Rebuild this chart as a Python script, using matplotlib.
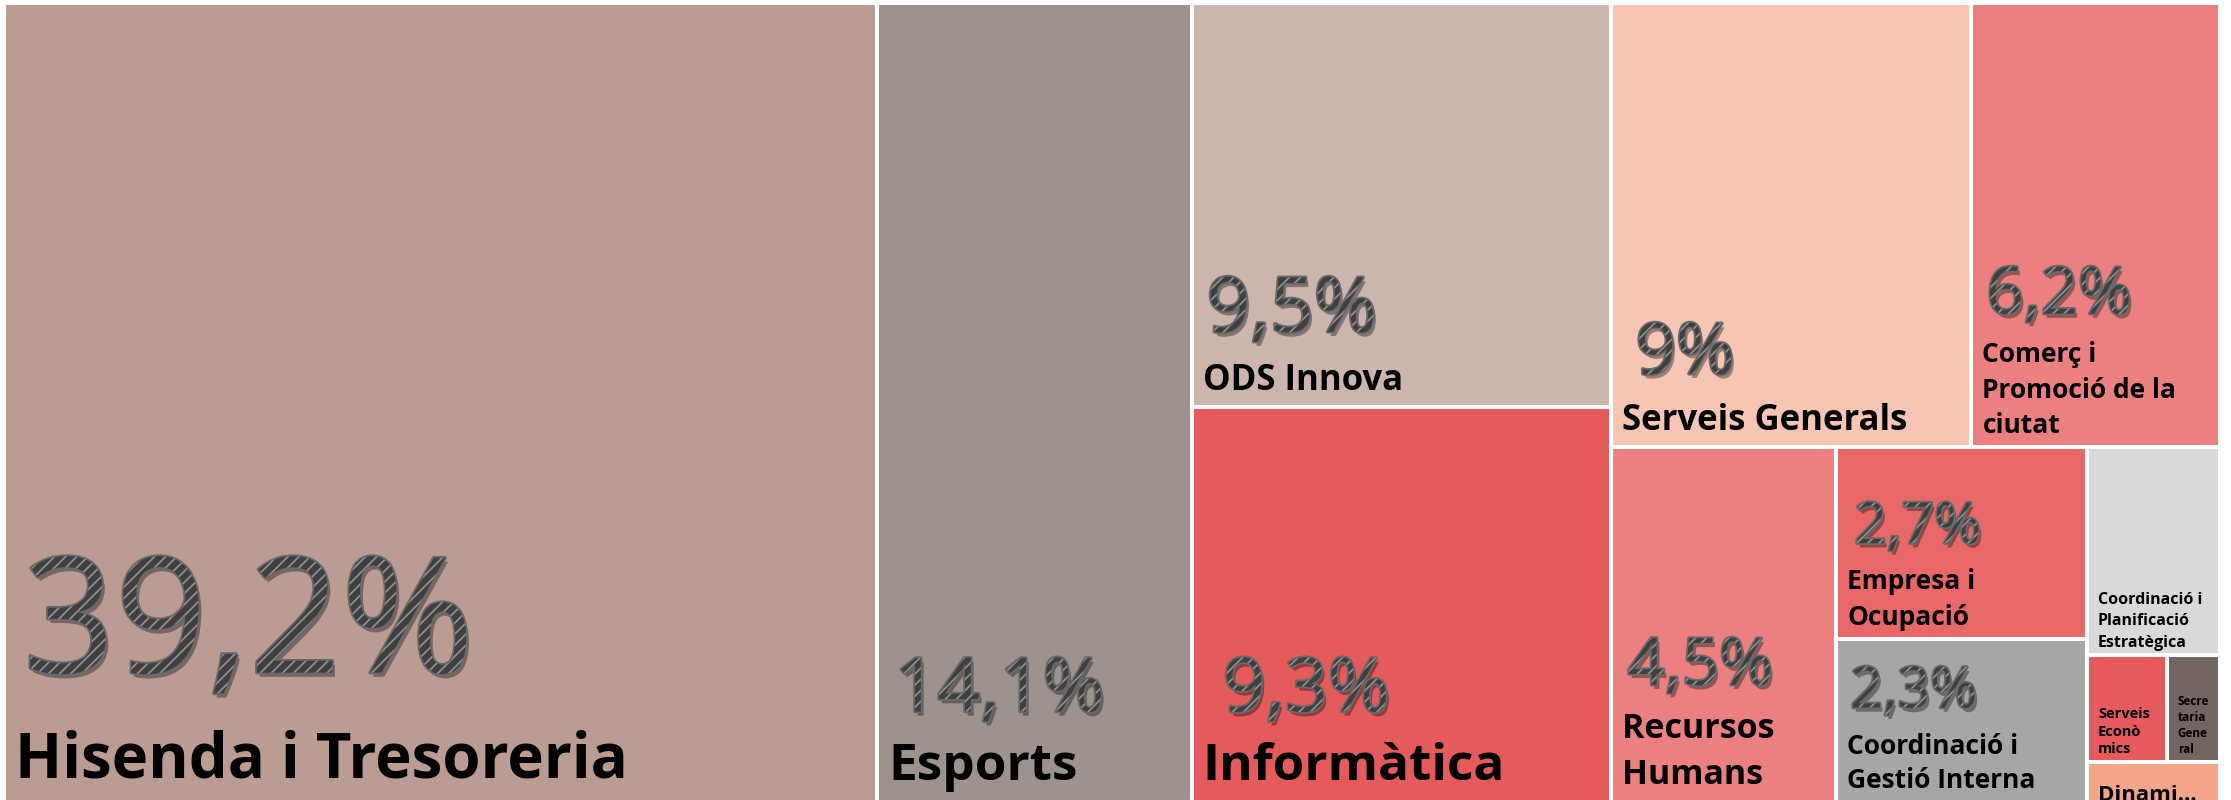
import matplotlib.pyplot as plt
import matplotlib.patheffects as pe
from matplotlib.patches import Rectangle

plt.rcParams['font.family'] = ['Open Sans', 'DejaVu Sans']
plt.rcParams['hatch.linewidth'] = 1.3

# share of the budget per department (%)
departments = ["Hisenda i Tresoreria", "Esports", "ODS Innova", "Informàtica",
               "Serveis Generals", "Comerç i Promoció de la ciutat", "Recursos Humans",
               "Empresa i Ocupació", "Coordinació i Gestió Interna",
               "Coordinació i Planificació Estratègica", "Serveis Econòmics",
               "Secretaria General", "Dinami…"]
shares = [39.2, 14.1, 9.5, 9.3, 9.0, 6.2, 4.5, 2.7, 2.3, 1.55, 0.48, 0.32, 0.3]

# names as they are wrapped inside the tiles
tile_labels = ["Hisenda i Tresoreria", "Esports", "ODS Innova", "Informàtica",
               "Serveis Generals", "Comerç i\nPromoció de la\nciutat", "Recursos\nHumans",
               "Empresa i\nOcupació", "Coordinació i\nGestió Interna",
               "Coordinació i\nPlanificació\nEstratègica", "Serveis\nEconò\nmics",
               "Secre\ntaria\nGene\nral", "Dinami…"]

tile_colors = ['#BA9C92', '#9C928E', '#CCB5AD', '#E55A5A', '#F7C5B4', '#EC8080',
               '#EC8080', '#E86868', '#A6A6A6', '#D9D9D9', '#E55A5A', '#726663', '#F4A58A']

# font sizes (pt) of the percentage and of the name in each tile, None = no percentage
pct_sizes = [116, 54, 55, 54, 51, 47, 47, 41, 41, None, None, None, None]
pct_shift = [8, 6, 4, 20, 14, 4, 6, 7, 3, 0, 0, 0, 0]
name_sizes = [44.5, 37, 25, 37, 25, 19, 24.5, 19, 19, 11.5, 10.5, 8.5, 16]
name_lift = [8, 8, 8, 8, 8, 8, 8, 8, 6, 4, 6, 6, -6]
line_spacing = [1.2, 1.2, 1.2, 1.2, 1.2, 1.4, 1.45, 1.4, 1.35, 1.45, 1.3, 1.3, 1.2]

# how the tiles are nested: rows split left-to-right, cols split top-to-bottom
LAYOUT = ('row', [0, 1, ('col', [2, 3]),
                  ('col', [('row', [4, 5]),
                           ('row', [6, ('col', [7, 8]),
                                    ('col', [9, ('row', [10, 11]), 12])])])])


def node_total(node):
    if isinstance(node, int):
        return shares[node]
    return sum(node_total(c) for c in node[1])


def place(node, x, y, w, h, out):
    if isinstance(node, int):
        out[node] = (x, y, w, h)
        return
    kind, children = node
    s = node_total(node)
    for c in children:
        t = node_total(c)
        if kind == 'row':
            cw = w * t / s
            place(c, x, y, cw, h, out)
            x += cw
        else:
            ch = h * t / s
            place(c, x, y, w, ch, out)
            y += ch


def pct_text(v):
    s = f"{v:.1f}".replace('.', ',')
    if s.endswith(',0'):
        s = s[:-2]
    return s + '%'


fig = plt.figure(figsize=(22.31, 8), dpi=100)
ax = fig.add_axes([0, 0, 1, 1])
ax.set_xlim(0, 2231)
ax.set_ylim(800, 0)
ax.axis('off')

rects = {}
place(LAYOUT, 4, 3, 2216, 799, rects)

pct_effects = [pe.SimplePatchShadow(offset=(2, -3), shadow_rgbFace='black', alpha=0.35),
               pe.Stroke(linewidth=2.5, foreground='#6a6a6a'),
               pe.PathPatchEffect(facecolor='#3f3f3f', edgecolor='#8e8e8e',
                                  hatch='///', linewidth=0)]

for i in range(len(shares)):
    x, y, w, h = rects[i]
    ax.add_patch(Rectangle((x, y), w, h, facecolor=tile_colors[i],
                           edgecolor='white', linewidth=2.9))
    # the bottom row of tiles runs a little past the lower edge
    name = ax.annotate(tile_labels[i], xy=(x, min(y + h, 800)),
                       xytext=(11, name_lift[i]),
                       textcoords='offset pixels', ha='left', va='bottom',
                       fontsize=name_sizes[i], fontweight='bold', color='black',
                       linespacing=line_spacing[i], annotation_clip=False)
    if pct_sizes[i]:
        em = pct_sizes[i] / 0.72
        ax.annotate(pct_text(shares[i]), xy=(0, 1), xycoords=name,
                    xytext=(pct_shift[i], 8 + 0.3 * em), textcoords='offset pixels',
                    ha='left', va='baseline', fontsize=pct_sizes[i],
                    path_effects=pct_effects, annotation_clip=False)

fig.savefig('out.png', dpi=100)
